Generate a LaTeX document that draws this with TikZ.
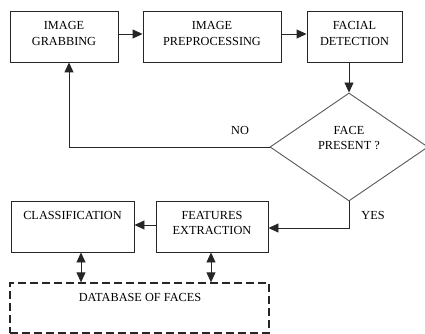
\documentclass[tikz,border=0pt]{standalone}
\usepackage{fontspec}
\setmainfont{Liberation Serif}
\usetikzlibrary{shapes.geometric,arrows.meta}
\begin{document}
\begin{tikzpicture}[x=1pt,y=-1pt,
  font=\fontsize{12.3}{15.7}\selectfont,
  box/.style={draw=black!85,line width=0.9pt,minimum height=51pt,inner sep=0pt},
  txt/.style={align=center,inner sep=0pt},
  conn/.style={draw=black!85,line width=0.9pt,-{Triangle[length=10pt,width=9pt]}},
  dconn/.style={draw=black!85,line width=0.9pt,{Triangle[length=10pt,width=9pt]}-{Triangle[length=10pt,width=9pt]}}]
\useasboundingbox (0,0) rectangle (425,334);
% top row
\node[box,minimum width=108pt] (b1) at (64,36.5) {};
\node[txt] (t1) at (64,33.2) {IMAGE\\GRABBING};
\node[box,minimum width=138pt] (b2) at (212,36.5) {};
\node[txt] (t2) at (212,33.2) {IMAGE\\PREPROCESSING};
\node[box,minimum width=95pt] (b3) at (354.5,36.5) {};
\node[txt] (t3) at (354.5,33.2) {FACIAL\\DETECTION};
% decision
\node[diamond,draw=black!65,line width=0.9pt,minimum width=158pt,minimum height=108pt,inner sep=0pt] (dec) at (349,147) {};
\node[txt] (td) at (349,138) {FACE\\PRESENT ?};
% bottom row
\node[box,minimum width=123pt] (cls) at (72.5,226.5) {};
\node[txt] (tc) at (72.5,215) {CLASSIFICATION};
\node[box,minimum width=112pt] (fe) at (212,226.5) {};
\node[txt] (tf) at (212,223) {FEATURES\\EXTRACTION};
\node[box,line width=1.3pt,dash pattern=on 8pt off 4pt,minimum width=259pt,minimum height=50pt] (db) at (139.5,308) {};
\node[txt] (tdb) at (140,297) {DATABASE OF FACES};
% connectors
\draw[conn] ([yshift=2.5pt]b1.east) -- ([yshift=2.5pt]b2.west);
\draw[conn] ([yshift=2.5pt]b2.east) -- ([yshift=2.5pt]b3.west);
\draw[conn] (dec.north |- b3.south) -- (dec.north);
\coordinate (noc) at (69,147);
\draw[conn] (dec.west) -- (noc) -- (noc |- b1.south);
\node[txt] (lno) at (240,130) {NO};
\coordinate (yesc) at (349,228);
\draw[conn] (dec.south) -- (yesc) -- (yesc -| fe.east);
\node[txt] (lyes) at (373,215) {YES};
\draw[conn] ([yshift=1.5pt]fe.west) -- ([yshift=1.5pt]cls.east);
\draw[dconn] (81,0 |- cls.south) -- (81,0 |- db.north);
\draw[dconn] (211,0 |- fe.south) -- (211,0 |- db.north);
\end{tikzpicture}
\end{document}
